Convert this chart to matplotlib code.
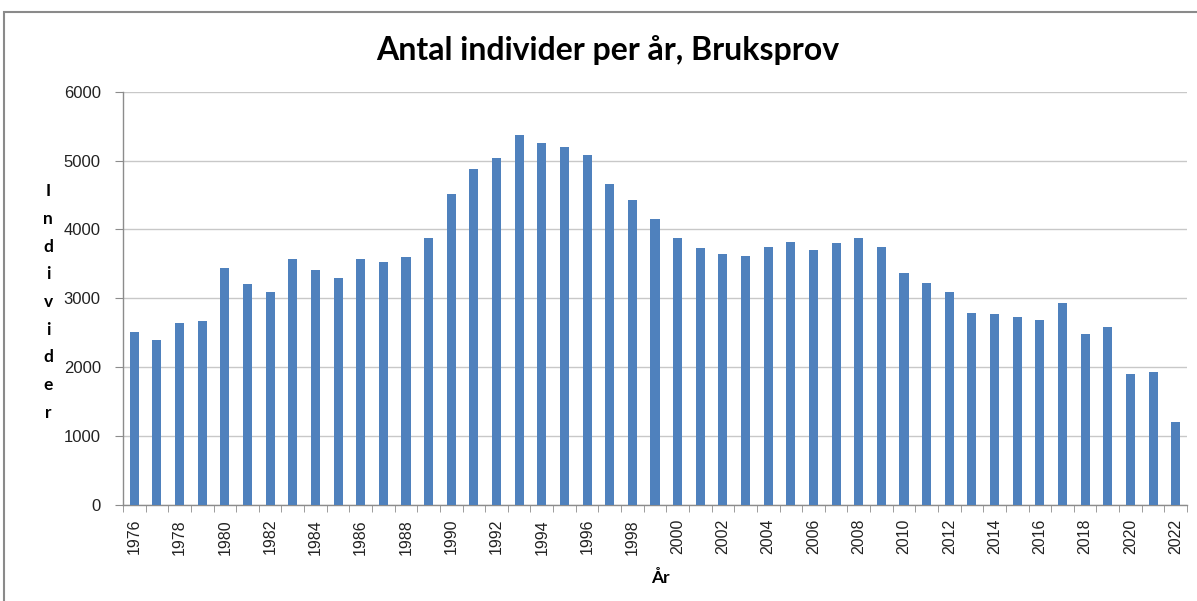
import matplotlib.pyplot as plt
import numpy as np
from matplotlib.patches import Rectangle

# Values.
years = list(range(1976, 2023))
individer = [
    2515, 2395, 2635, 2675, 3435, 3210, 3085, 3565, 3410, 3300,
    3565, 3525, 3595, 3875, 4520, 4875, 5035, 5370, 5255, 5195,
    5075, 4660, 4435, 4155, 3875, 3730, 3650, 3610, 3745, 3820,
    3700, 3805, 3875, 3745, 3375, 3230, 3085, 2790, 2775, 2730,
    2690, 2935, 2480, 2580, 1895, 1935, 1205,
]
y_ticks = [0, 1000, 2000, 3000, 4000, 5000, 6000]

BAR_COLOR = "#4F81BD"
GRID_COLOR = "#C8C8C8"
AXIS_COLOR = "#8C8C8C"

fig = plt.figure(figsize=(11.97, 6.01), dpi=100)
ax = fig.add_axes([123 / 1197, 1 - 505 / 601, (1187 - 123) / 1197, (505 - 91.7) / 601])

x = np.arange(len(years))
ax.bar(x, individer, width=0.4, color=BAR_COLOR, zorder=3)

ax.set_xlim(-0.5, len(years) - 0.5)
ax.set_ylim(0, 6000)
ax.set_yticks(y_ticks)
ax.set_yticklabels([str(v) for v in y_ticks], fontfamily="Liberation Sans", fontsize=12, color="#222222")
ax.yaxis.grid(True, color=GRID_COLOR, linewidth=1.0, zorder=0)

# labels on every second year, tick marks between categories
ax.set_xticks(x[::2])
ax.set_xticklabels([str(y) for y in years[::2]], rotation=90,
                   fontfamily="Liberation Sans", fontsize=11.5, color="#222222")
ax.set_xticks(np.arange(-0.5, len(years)), minor=True)
ax.tick_params(axis="x", which="major", length=0, pad=10)
ax.tick_params(axis="x", which="minor", length=5, color=AXIS_COLOR)
ax.tick_params(axis="y", length=6, color=AXIS_COLOR, pad=10)

for side in ("top", "right"):
    ax.spines[side].set_visible(False)
for side in ("left", "bottom"):
    ax.spines[side].set_color(AXIS_COLOR)
    ax.spines[side].set_linewidth(1.0)

fig.text(608 / 1197, 1 - 50 / 601, "Antal individer per år, Bruksprov",
         ha="center", va="center", fontsize=23, fontweight="bold", fontfamily="Lato")
fig.text(660 / 1197, 1 - 578 / 601, "År", ha="center", va="center",
         fontsize=12.5, fontweight="bold", fontfamily="Lato")
fig.text(48 / 1197, 1 - 302 / 601, "\n".join("Individer"), ha="center", va="center",
         fontsize=12.5, fontweight="bold", fontfamily="Lato", linespacing=1.9)

# outer chart border
fig.add_artist(Rectangle((4 / 1197, -0.05), 1.1, 1 - 12 / 601 + 0.05, transform=fig.transFigure,
                         fill=False, edgecolor="#8A8A8A", linewidth=1.5))

fig.savefig("out.png", dpi=100, facecolor="white")
